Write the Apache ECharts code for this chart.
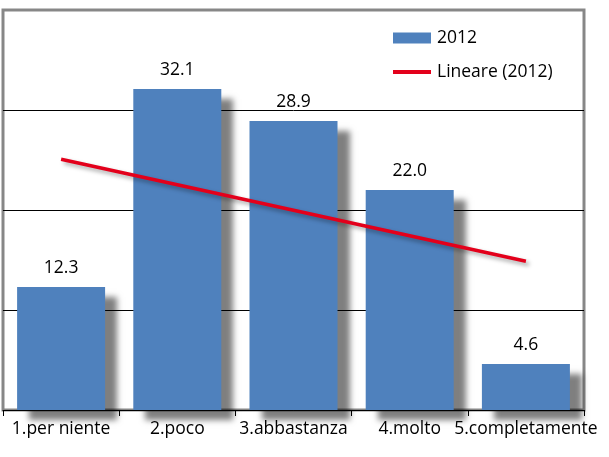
<!DOCTYPE html>
<html>
<head>
<meta charset="utf-8">
<script src="https://cdn.jsdelivr.net/npm/echarts@6/dist/echarts.min.js"></script>
<style>
html,body{margin:0;padding:0;background:#fff;}
#chart{width:609px;height:457px;}
</style>
</head>
<body>
<div id="chart"></div>
<script>
const categories = ['1.per niente', '2.poco', '3.abbastanza', '4.molto', '5.completamente'];
const values2012 = [12.3, 32.1, 28.9, 22.0, 4.6];
const trendValues = [25.08, 22.53, 19.98, 17.43, 14.88];
const seriesName = '2012';
const trendName = 'Lineare (2012)';

const FONT = 'Open Sans';
const FS = 17.5;
const chart = echarts.init(document.getElementById('chart'), null, {renderer: 'canvas'});
chart.setOption({
  animation: false,
  backgroundColor: '#fff',
  grid: {left: 3, right: 25, top: 10, bottom: 47, show: true, borderColor: '#878787', borderWidth: 3, backgroundColor: 'transparent'},
  legend: [
    {
      left: 393, top: 29, padding: 0, itemWidth: 38, itemHeight: 11,
      textStyle: {fontFamily: FONT, fontSize: FS, color: '#000', padding: [0, 0, 0, 1]},
      data: [{name: seriesName, icon: 'rect'}]
    },
    {
      left: 393, top: 63, padding: 0, itemWidth: 38, itemHeight: 4,
      textStyle: {fontFamily: FONT, fontSize: FS, color: '#000', padding: [0, 0, 0, 1]},
      data: [{name: trendName, icon: 'rect'}]
    }
  ],
  xAxis: {
    type: 'category', data: categories, boundaryGap: true,
    axisLine: {lineStyle: {color: '#000', width: 1}},
    axisTick: {show: true, length: 6, lineStyle: {color: '#000'}},
    axisLabel: {fontFamily: FONT, fontSize: FS, color: '#000', margin: 10, interval: 0}
  },
  yAxis: {
    type: 'value', min: 0, max: 40, interval: 10,
    axisLine: {show: false}, axisTick: {show: false}, axisLabel: {show: false},
    splitLine: {lineStyle: {color: ['#000', '#000', '#000', '#000', 'rgba(0,0,0,0)'], width: 1}}
  },
  series: [
    {
      name: seriesName, type: 'bar', data: values2012, barWidth: 88, clip: true,
      itemStyle: {color: '#4f81bd', shadowColor: 'rgba(0,0,0,0.5)', shadowBlur: 6, shadowOffsetX: 12, shadowOffsetY: 10},
      label: {show: true, position: 'top', distance: 10, fontFamily: FONT, fontSize: FS, color: '#000', formatter: p => p.value.toFixed(1)}
    },
    {
      name: trendName, type: 'line', data: trendValues, symbol: 'none', z: 5,
      itemStyle: {color: '#e3001b'},
      lineStyle: {color: '#e3001b', width: 3.5, shadowColor: 'rgba(0,0,0,0.35)', shadowBlur: 4, shadowOffsetX: 3, shadowOffsetY: 3}
    }
  ]
});
</script>
</body>
</html>
